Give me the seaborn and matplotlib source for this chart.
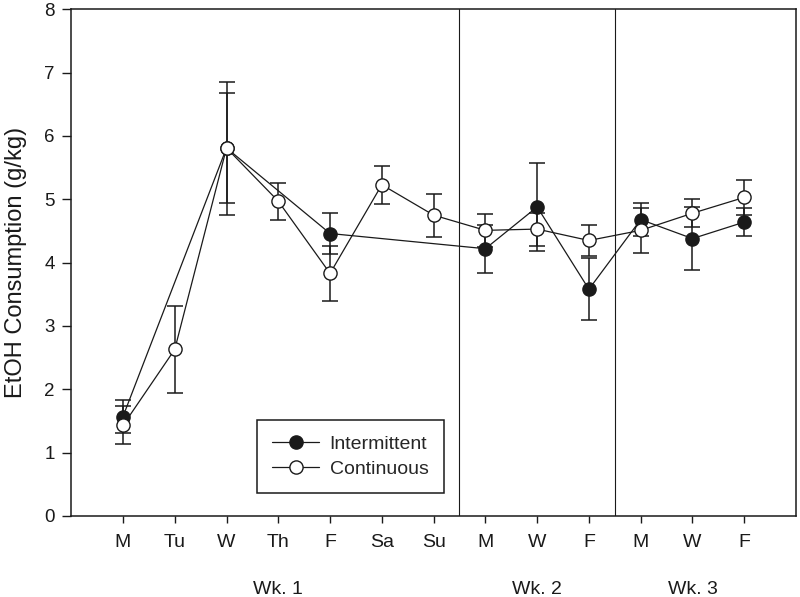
import numpy as np
import pandas as pd
import seaborn as sns
import matplotlib.pyplot as plt

# days on the x axis, grouped into weeks
days = ["M", "Tu", "W", "Th", "F", "Sa", "Su", "M", "W", "F", "M", "W", "F"]
weeks = ["Wk. 1", "Wk. 2", "Wk. 3"]
days_per_week = [7, 3, 3]

# mean EtOH consumption (g/kg) and SEM, NaN where a group had no access
cont_mean = [1.43, 2.63, 5.81, 4.97, 3.83, 5.23, 4.75, 4.51, 4.53, 4.35, 4.51, 4.78, 5.03]
cont_err = [0.30, 0.69, 1.05, 0.29, 0.44, 0.30, 0.34, 0.26, 0.26, 0.25, 0.35, 0.22, 0.28]
int_mean = [1.57, np.nan, 5.81, np.nan, 4.46, np.nan, np.nan, 4.22, 4.88, 3.58, 4.68, 4.38, 4.64]
int_err = [0.26, np.nan, 0.87, np.nan, 0.32, np.nan, np.nan, 0.38, 0.70, 0.49, 0.26, 0.50, 0.22]

pos = np.arange(1, len(days) + 1)
df = pd.DataFrame({"pos": pos, "cont": cont_mean, "cont_err": cont_err,
                   "int": int_mean, "int_err": int_err})
df_int = df.dropna(subset=["int"])

sns.set_style("ticks")
plt.rcParams["font.family"] = ["Liberation Sans", "DejaVu Sans"]

fig, ax = plt.subplots(figsize=(8, 5.97), dpi=100)
fig.subplots_adjust(left=0.089, right=0.995, bottom=0.1357, top=0.9844)

ink = "#1a1a1a"

# error bars first so the markers sit on top
ax.errorbar(df_int["pos"], df_int["int"], yerr=df_int["int_err"], fmt="none",
            ecolor=ink, elinewidth=1.1, capsize=5.8, capthick=1.1, zorder=2)
ax.errorbar(df["pos"], df["cont"], yerr=df["cont_err"], fmt="none",
            ecolor=ink, elinewidth=1.1, capsize=5.8, capthick=1.1, zorder=2)

sns.lineplot(data=df_int, x="pos", y="int", ax=ax, color=ink, linewidth=0.9,
             marker="o", markersize=9.5, markerfacecolor=ink, markeredgecolor=ink,
             markeredgewidth=1, errorbar=None, label="Intermittent", zorder=3)
sns.lineplot(data=df, x="pos", y="cont", ax=ax, color=ink, linewidth=0.9,
             marker="o", markersize=9.5, markerfacecolor="white", markeredgecolor=ink,
             markeredgewidth=1, errorbar=None, label="Continuous", zorder=4)

# week separators
bounds = np.cumsum(days_per_week)
for b in bounds[:-1]:
    ax.axvline(b + 0.5, color=ink, linewidth=0.8, zorder=1)

starts = np.concatenate([[0], bounds[:-1]])
for w, s, n in zip(weeks, starts, days_per_week):
    ax.text(s + (n + 1) / 2, -0.146, w, transform=ax.get_xaxis_transform(),
            ha="center", va="center", fontsize=14, color=ink)

ax.set_xlim(0, len(days) + 1)
ax.set_ylim(0, 8)
ax.set_xticks(pos)
ax.set_xticklabels(days)
ax.set_yticks(range(0, 9))
ax.set_xlabel("")
ax.set_ylabel("EtOH Consumption (g/kg)", fontsize=17, color=ink, labelpad=12)
ax.tick_params(axis="x", length=5.2, width=1, pad=8, labelsize=14, colors=ink)
ax.tick_params(axis="y", length=6.5, width=1, pad=5.5, labelsize=13.5, colors=ink)
for sp in ax.spines.values():
    sp.set_visible(True)
    sp.set_linewidth(1.1)
    sp.set_color(ink)

leg = ax.legend(loc="lower left", bbox_to_anchor=(0.256, 0.045), fontsize=14,
                frameon=True, fancybox=False, framealpha=1, edgecolor=ink,
                handlelength=2.4, handletextpad=0.55, labelspacing=0.35,
                borderpad=0.8, borderaxespad=0)
leg.get_frame().set_linewidth(1.1)

plt.savefig("out.png", dpi=100)
